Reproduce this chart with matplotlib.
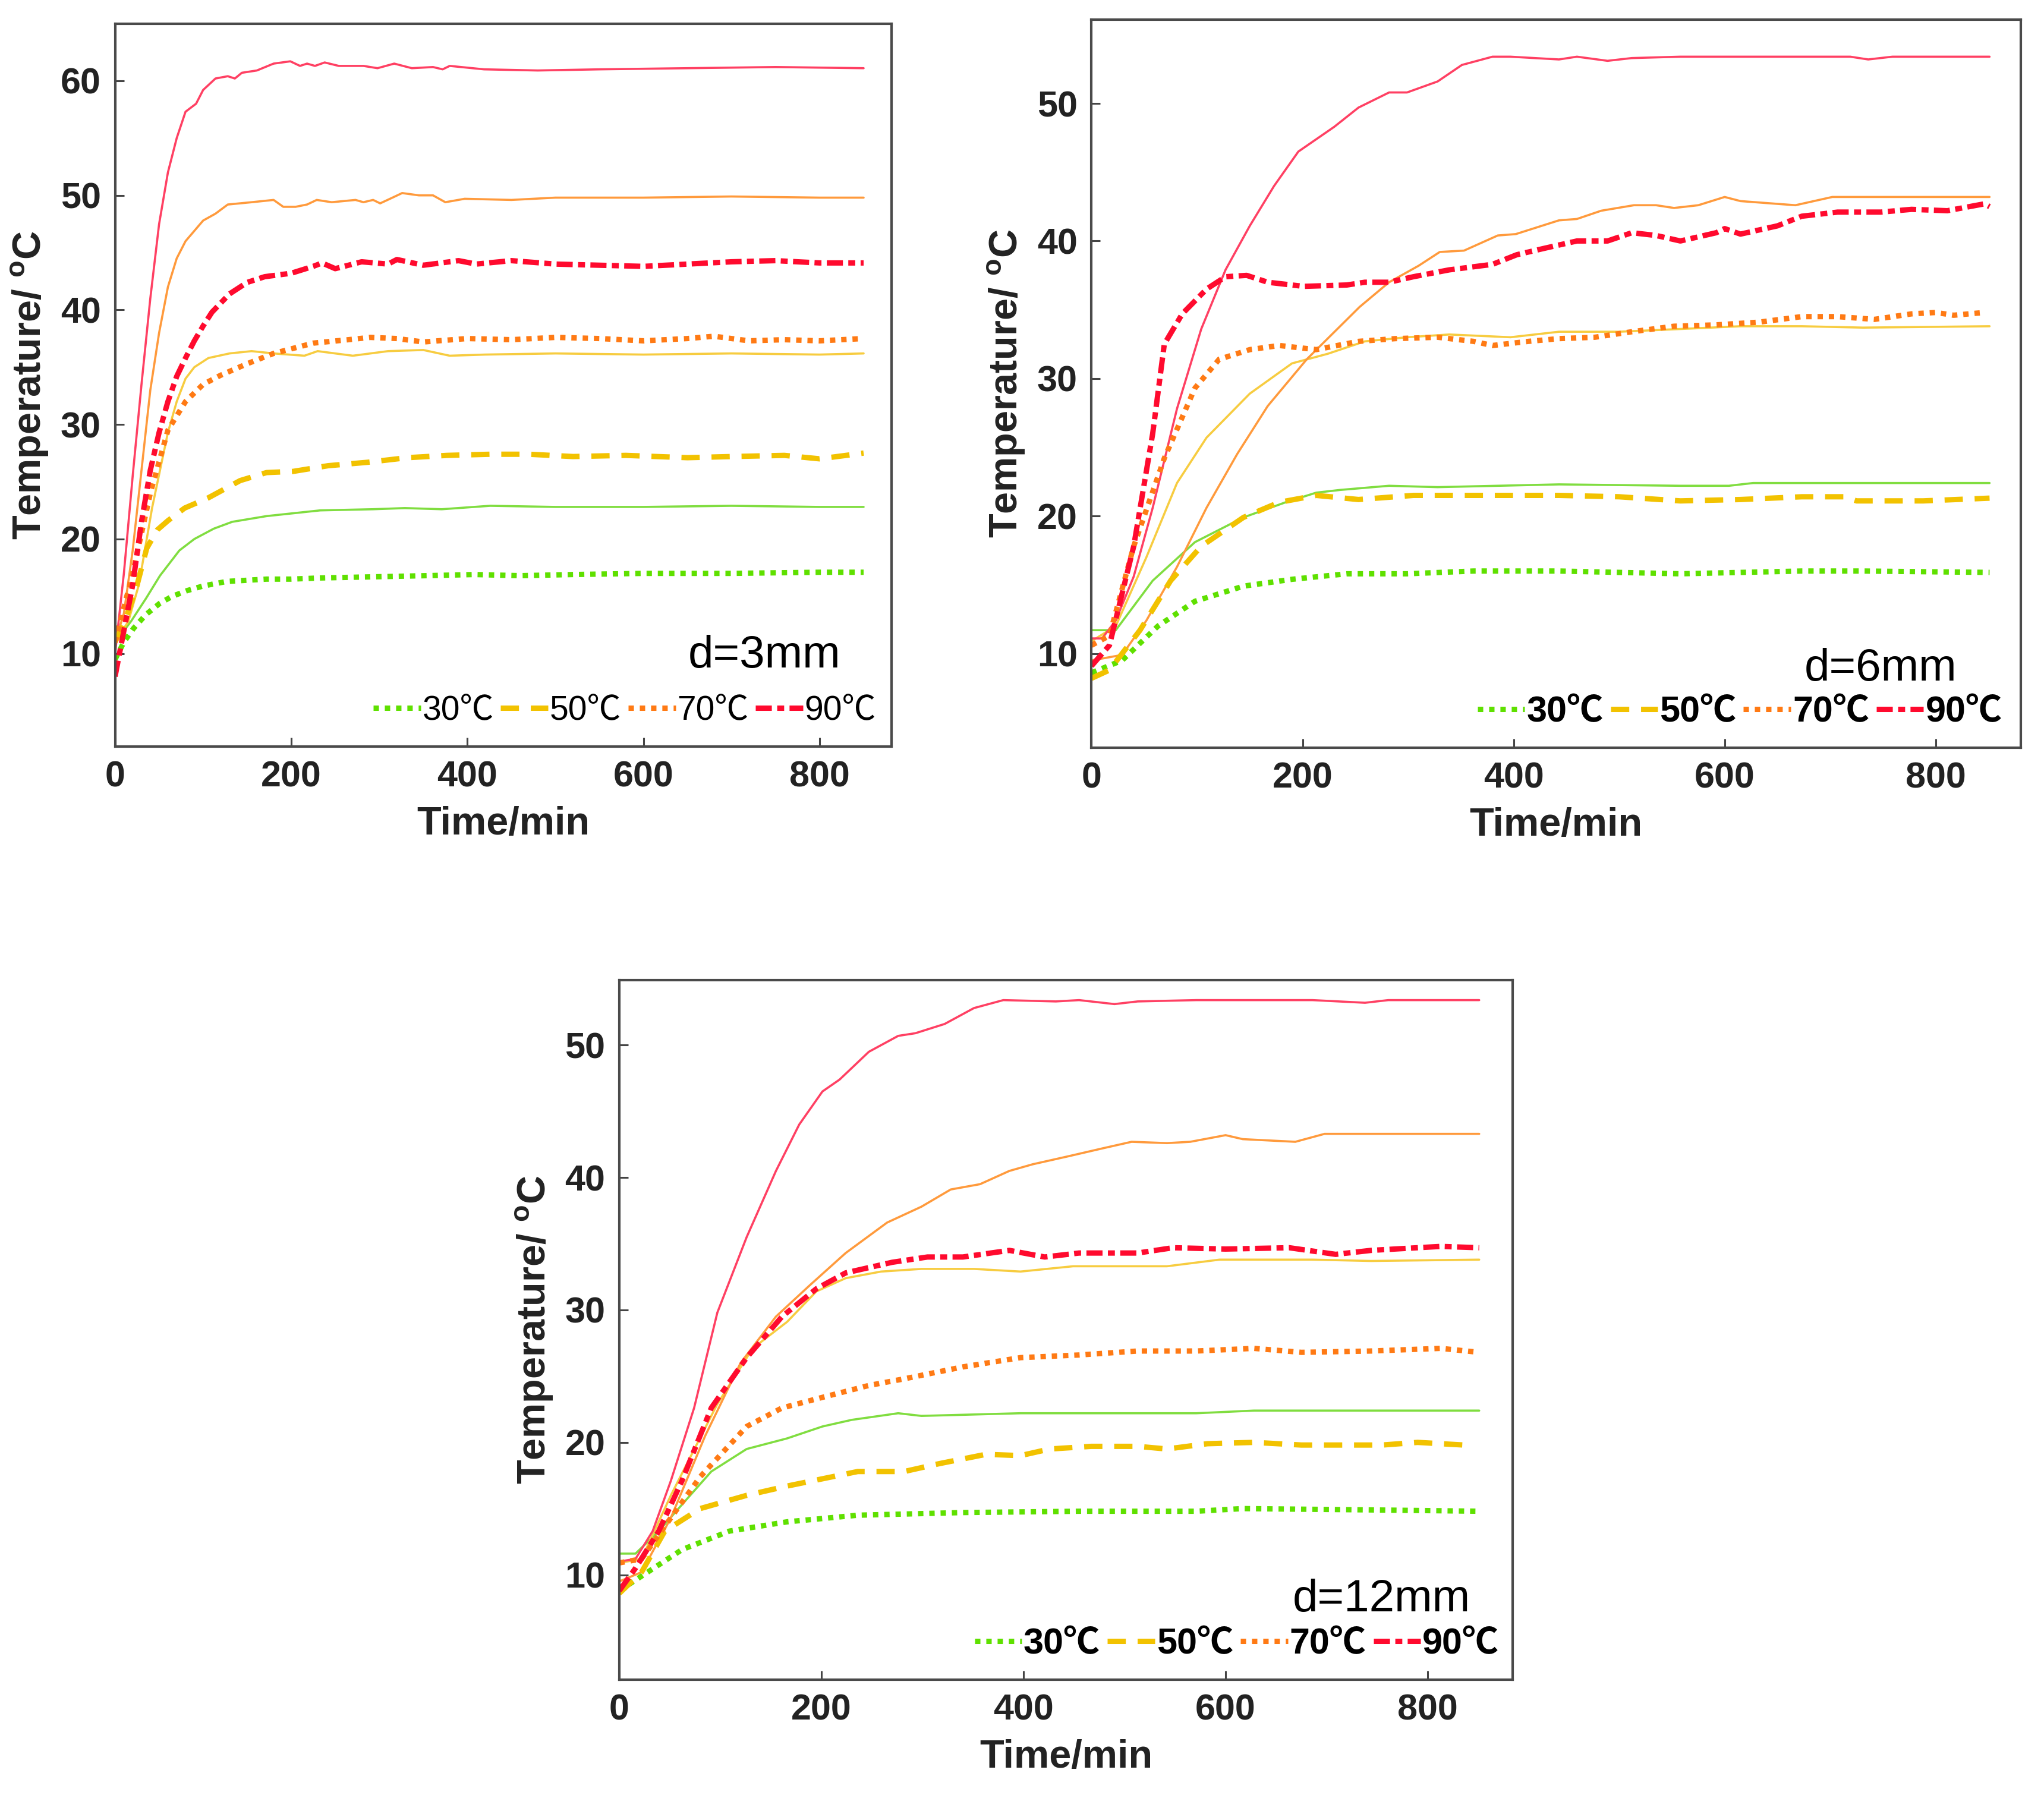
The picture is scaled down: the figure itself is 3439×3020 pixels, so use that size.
import matplotlib
matplotlib.use("Agg")
import matplotlib.pyplot as plt
from matplotlib.font_manager import FontProperties

# ---------------- data ----------------
LEGEND_LABELS = ["30℃", "50℃", "70℃", "90℃"]
X_TICKS = [0, 200, 400, 600, 800]
Y_TICKS_1 = [10, 20, 30, 40, 50, 60]
Y_TICKS_23 = [10, 20, 30, 40, 50]
PANEL_TAGS = ["d=3mm", "d=6mm", "d=12mm"]

# ---- panel 1 : d = 3 mm ----
P1_T_G_DOT = [0, 10, 21, 35, 51, 65, 82, 100, 127, 150, 172, 200, 233, 293, 353, 408, 460, 520, 600, 700, 800, 850]
P1_Y_G_DOT = [9.5, 11.0, 12.2, 13.4, 14.4, 15.0, 15.5, 15.9, 16.3, 16.4, 16.5, 16.5, 16.6, 16.7, 16.8, 16.9, 16.8, 16.9, 17.0, 17.0, 17.1, 17.1]
P1_T_Y_DASH = [0, 12, 24, 36, 48, 60, 79, 106, 142, 172, 202, 242, 287, 332, 377, 426, 470, 520, 580, 650, 700, 760, 800, 830, 850]
P1_Y_Y_DASH = [11.0, 13.0, 15.7, 19.2, 20.8, 21.6, 22.7, 23.6, 25.1, 25.8, 25.9, 26.4, 26.7, 27.1, 27.3, 27.4, 27.4, 27.2, 27.3, 27.1, 27.2, 27.3, 27.0, 27.3, 27.5]
P1_T_O_DOT = [0, 10, 20, 30, 40, 60, 80, 100, 120, 150, 180, 225, 265, 290, 320, 350, 400, 450, 500, 550, 600, 650, 680, 720, 760, 800, 850]
P1_Y_O_DOT = [11.0, 14.0, 17.0, 20.5, 24.0, 29.5, 32.0, 33.5, 34.3, 35.3, 36.2, 37.1, 37.4, 37.6, 37.5, 37.2, 37.5, 37.4, 37.6, 37.5, 37.3, 37.5, 37.7, 37.3, 37.4, 37.3, 37.5]
P1_T_R_DD = [0, 10, 20, 30, 40, 50, 60, 70, 80, 90, 100, 110, 130, 150, 170, 200, 225, 235, 250, 280, 310, 320, 350, 390, 410, 450, 500, 550, 600, 650, 700, 750, 800, 850]
P1_Y_R_DD = [8.0, 12.0, 16.0, 21.5, 26.0, 29.3, 32.0, 34.2, 35.8, 37.3, 38.6, 39.8, 41.4, 42.4, 42.9, 43.2, 43.8, 44.1, 43.6, 44.2, 44.0, 44.4, 43.9, 44.3, 44.0, 44.3, 44.0, 43.9, 43.8, 44.0, 44.2, 44.3, 44.1, 44.1]
P1_T_G_SOL = [0, 18, 35, 51, 73, 90, 112, 133, 172, 233, 293, 329, 371, 426, 500, 600, 700, 800, 850]
P1_Y_G_SOL = [11.0, 12.8, 14.8, 16.8, 19.0, 20.0, 20.9, 21.5, 22.0, 22.5, 22.6, 22.7, 22.6, 22.9, 22.8, 22.8, 22.9, 22.8, 22.8]
P1_T_Y_SOL = [0, 15, 27, 42, 60, 70, 80, 90, 106, 130, 155, 180, 215, 230, 270, 310, 350, 380, 420, 500, 600, 700, 800, 850]
P1_Y_Y_SOL = [11.0, 12.8, 16.0, 22.7, 29.3, 32.0, 34.0, 35.0, 35.8, 36.2, 36.4, 36.2, 36.0, 36.4, 36.0, 36.4, 36.5, 36.0, 36.1, 36.2, 36.1, 36.2, 36.1, 36.2]
P1_T_O_SOL = [0, 10, 20, 30, 40, 50, 60, 70, 80, 100, 114, 128, 155, 180, 191, 205, 218, 229, 246, 273, 282, 293, 301, 315, 326, 345, 361, 375, 397, 450, 500, 600, 700, 800, 850]
P1_Y_O_SOL = [11.0, 13.5, 19.0, 26.0, 33.0, 38.0, 42.0, 44.5, 46.0, 47.8, 48.4, 49.2, 49.4, 49.6, 49.0, 49.0, 49.2, 49.6, 49.4, 49.6, 49.4, 49.6, 49.3, 49.8, 50.2, 50.0, 50.0, 49.4, 49.7, 49.6, 49.8, 49.8, 49.9, 49.8, 49.8]
P1_T_R_SOL = [0, 10, 20, 30, 40, 50, 60, 70, 80, 92, 100, 114, 128, 136, 144, 161, 180, 199, 210, 218, 227, 238, 254, 282, 298, 317, 337, 361, 372, 380, 419, 480, 550, 650, 750, 850]
P1_Y_R_SOL = [10.0, 17.0, 25.5, 33.5, 41.0, 47.5, 52.0, 55.0, 57.3, 58.0, 59.2, 60.2, 60.4, 60.2, 60.7, 60.9, 61.5, 61.7, 61.3, 61.5, 61.3, 61.6, 61.3, 61.3, 61.1, 61.5, 61.1, 61.2, 61.0, 61.3, 61.0, 60.9, 61.0, 61.1, 61.2, 61.1]

# ---- panel 2 : d = 6 mm ----
P2_T_G_DOT = [0, 29, 63, 98, 144, 190, 242, 299, 362, 443, 558, 673, 731, 851]
P2_Y_G_DOT = [8.6, 9.5, 12.0, 13.8, 14.9, 15.4, 15.8, 15.8, 16.0, 16.0, 15.8, 16.0, 16.0, 15.9]
P2_T_Y_DASH = [0, 17, 46, 75, 104, 144, 178, 213, 253, 305, 385, 443, 500, 558, 615, 673, 713, 725, 788, 851]
P2_Y_Y_DASH = [8.2, 8.8, 11.7, 15.3, 17.8, 19.9, 21.0, 21.5, 21.2, 21.5, 21.5, 21.5, 21.4, 21.1, 21.2, 21.4, 21.4, 21.1, 21.1, 21.3]
P2_T_O_DOT = [0, 17, 40, 69, 98, 121, 150, 178, 213, 253, 288, 328, 362, 380, 414, 443, 477, 512, 552, 592, 633, 673, 707, 742, 777, 800, 817, 846]
P2_Y_O_DOT = [10.6, 11.3, 17.8, 24.2, 29.3, 31.4, 32.1, 32.4, 32.1, 32.7, 32.9, 33.0, 32.7, 32.4, 32.7, 32.9, 33.0, 33.4, 33.8, 33.9, 34.1, 34.5, 34.5, 34.3, 34.7, 34.8, 34.6, 34.8]
P2_T_R_DD = [0, 17, 40, 58, 69, 86, 109, 127, 147, 167, 201, 242, 259, 282, 305, 339, 380, 403, 431, 460, 489, 512, 535, 558, 592, 600, 615, 650, 673, 707, 748, 777, 811, 846, 851]
P2_Y_R_DD = [9.1, 10.6, 17.8, 26.0, 32.5, 34.7, 36.5, 37.4, 37.5, 37.0, 36.7, 36.8, 37.0, 37.0, 37.4, 37.9, 38.3, 39.0, 39.5, 40.0, 40.0, 40.6, 40.4, 40.0, 40.6, 40.9, 40.5, 41.1, 41.8, 42.1, 42.1, 42.3, 42.2, 42.7, 42.5]
P2_T_G_SOL = [0, 23, 58, 98, 144, 184, 213, 236, 282, 328, 385, 443, 558, 604, 627, 731, 851]
P2_Y_G_SOL = [11.7, 11.7, 15.3, 18.1, 19.9, 21.0, 21.7, 21.9, 22.2, 22.1, 22.2, 22.3, 22.2, 22.2, 22.4, 22.4, 22.4]
P2_T_Y_SOL = [0, 23, 52, 81, 109, 150, 190, 224, 259, 299, 339, 397, 443, 500, 558, 615, 673, 731, 851]
P2_Y_Y_SOL = [10.9, 12.0, 17.0, 22.4, 25.7, 28.9, 31.1, 31.8, 32.7, 33.0, 33.2, 33.0, 33.4, 33.4, 33.6, 33.8, 33.8, 33.7, 33.8]
P2_T_O_SOL = [0, 29, 52, 81, 109, 138, 167, 204, 254, 282, 310, 330, 353, 385, 402, 443, 460, 483, 514, 535, 552, 575, 600, 615, 667, 702, 851]
P2_Y_O_SOL = [9.5, 9.9, 12.4, 16.3, 20.6, 24.5, 28.0, 31.4, 35.2, 37.0, 38.2, 39.2, 39.3, 40.4, 40.5, 41.5, 41.6, 42.2, 42.6, 42.6, 42.4, 42.6, 43.2, 42.9, 42.6, 43.2, 43.2]
P2_T_R_SOL = [0, 10, 23, 40, 58, 81, 104, 127, 150, 173, 196, 213, 230, 253, 282, 299, 328, 351, 380, 397, 443, 460, 489, 512, 558, 615, 673, 719, 736, 759, 851]
P2_Y_R_SOL = [11.1, 11.1, 12.4, 15.6, 20.6, 27.8, 33.6, 37.9, 41.1, 44.0, 46.5, 47.4, 48.3, 49.7, 50.8, 50.8, 51.6, 52.8, 53.4, 53.4, 53.2, 53.4, 53.1, 53.3, 53.4, 53.4, 53.4, 53.4, 53.2, 53.4, 53.4]

# ---- panel 3 : d = 12 mm ----
P3_T_G_DOT = [0, 28, 62, 109, 166, 236, 340, 455, 571, 617, 744, 851]
P3_Y_G_DOT = [8.8, 10.2, 11.9, 13.3, 14.0, 14.5, 14.7, 14.8, 14.8, 15.0, 14.9, 14.8]
P3_T_Y_DASH = [0, 22, 45, 80, 126, 166, 236, 282, 317, 363, 397, 426, 467, 513, 542, 582, 628, 675, 721, 755, 790, 836]
P3_Y_Y_DASH = [8.6, 10.2, 13.3, 15.0, 16.0, 16.7, 17.8, 17.8, 18.4, 19.1, 19.0, 19.5, 19.7, 19.7, 19.5, 19.9, 20.0, 19.8, 19.8, 19.8, 20.0, 19.8]
P3_T_O_DOT = [0, 22, 51, 80, 126, 161, 201, 247, 282, 340, 397, 455, 513, 571, 628, 675, 744, 813, 851]
P3_Y_O_DOT = [10.9, 11.2, 14.3, 17.4, 21.2, 22.6, 23.4, 24.3, 24.8, 25.7, 26.4, 26.6, 26.9, 26.9, 27.1, 26.8, 26.9, 27.1, 26.8]
P3_T_R_DD = [0, 16, 39, 62, 91, 126, 161, 195, 224, 270, 305, 340, 386, 421, 455, 513, 548, 600, 663, 709, 744, 813, 851]
P3_Y_R_DD = [8.8, 10.5, 13.3, 17.1, 22.6, 26.4, 29.5, 31.6, 32.8, 33.6, 34.0, 34.0, 34.5, 34.0, 34.3, 34.3, 34.7, 34.6, 34.7, 34.2, 34.5, 34.8, 34.7]
P3_T_G_SOL = [0, 16, 39, 62, 91, 126, 166, 201, 230, 276, 299, 397, 571, 628, 851]
P3_Y_G_SOL = [11.6, 11.6, 13.3, 15.3, 17.8, 19.5, 20.3, 21.2, 21.7, 22.2, 22.0, 22.2, 22.2, 22.4, 22.4]
P3_T_Y_SOL = [0, 22, 51, 97, 132, 166, 195, 224, 259, 299, 351, 397, 449, 542, 594, 686, 744, 851]
P3_Y_Y_SOL = [10.9, 11.2, 16.0, 22.9, 27.1, 29.1, 31.4, 32.4, 32.9, 33.1, 33.1, 32.9, 33.3, 33.3, 33.8, 33.8, 33.7, 33.8]
P3_T_O_SOL = [0, 22, 51, 85, 120, 155, 189, 224, 265, 299, 328, 357, 386, 409, 444, 478, 507, 542, 565, 600, 617, 669, 698, 851]
P3_Y_O_SOL = [9.5, 10.2, 14.3, 20.5, 26.0, 29.5, 31.9, 34.3, 36.6, 37.8, 39.1, 39.5, 40.5, 41.0, 41.6, 42.2, 42.7, 42.6, 42.7, 43.2, 42.9, 42.7, 43.3, 43.3]
P3_T_R_SOL = [0, 16, 33, 51, 74, 97, 126, 155, 178, 201, 218, 247, 276, 293, 322, 351, 380, 432, 455, 490, 513, 571, 686, 738, 761, 851]
P3_Y_R_SOL = [11.0, 11.2, 13.3, 17.1, 22.6, 29.8, 35.5, 40.5, 44.0, 46.5, 47.4, 49.5, 50.7, 50.9, 51.6, 52.8, 53.4, 53.3, 53.4, 53.1, 53.3, 53.4, 53.4, 53.2, 53.4, 53.4]

# ---------------- style ----------------
C_GREEN_DOT, C_GREEN_SOL = "#5fe000", "#80dd40"
C_YEL_DASH, C_YEL_SOL = "#f2c200", "#f7cc40"
C_OR_DOT, C_OR_SOL = "#ff7a14", "#ff9a3c"
C_RED_DD, C_RED_SOL = "#ff0a2e", "#ff4063"

LW_SOL = 2.6
LW_THICK = 6.5
LS_DOT = (0, (1.0, 1.1))
LS_DASH = (0, (3.4, 2.2))
LS_DD = (0, (3.0, 1.0, 1.3, 1.0))

plt.rcParams["font.family"] = ["Liberation Sans", "DejaVu Sans"]
plt.rcParams["mathtext.fontset"] = "custom"
plt.rcParams["mathtext.rm"] = "Liberation Sans"
plt.rcParams["mathtext.bf"] = "Liberation Sans:bold"

fig = plt.figure(figsize=(34.39, 30.20), dpi=100)

panels = [
    dict(rect=[0.0563, 0.5842, 0.3800, 0.4027], xlim=(0, 882), ylim=(1.9, 65.0), yticks=Y_TICKS_1,
         tag=PANEL_TAGS[0], tagpos=(0.934, 0.125), legx=0.98, legy=0.049, legsize=41, legweight="normal",
         handlelen=1.4, colsp=0.2,
         data=[(P1_T_G_SOL, P1_Y_G_SOL), (P1_T_Y_SOL, P1_Y_Y_SOL), (P1_T_O_SOL, P1_Y_O_SOL), (P1_T_R_SOL, P1_Y_R_SOL),
               (P1_T_G_DOT, P1_Y_G_DOT), (P1_T_Y_DASH, P1_Y_Y_DASH), (P1_T_O_DOT, P1_Y_O_DOT), (P1_T_R_DD, P1_Y_R_DD)]),
    dict(rect=[0.5340, 0.5835, 0.4546, 0.4056], xlim=(0, 880.5), ylim=(3.16, 56.1), yticks=Y_TICKS_23,
         tag=PANEL_TAGS[1], tagpos=(0.931, 0.108), legx=0.98, legy=0.048, legsize=44, legweight="bold",
         handlelen=1.3, colsp=0.2,
         data=[(P2_T_G_SOL, P2_Y_G_SOL), (P2_T_Y_SOL, P2_Y_Y_SOL), (P2_T_O_SOL, P2_Y_O_SOL), (P2_T_R_SOL, P2_Y_R_SOL),
               (P2_T_G_DOT, P2_Y_G_DOT), (P2_T_Y_DASH, P2_Y_Y_DASH), (P2_T_O_DOT, P2_Y_O_DOT), (P2_T_R_DD, P2_Y_R_DD)]),
    dict(rect=[0.3030, 0.0644, 0.4370, 0.3895], xlim=(0, 884), ylim=(2.1, 54.9), yticks=Y_TICKS_23,
         tag=PANEL_TAGS[2], tagpos=(0.953, 0.114), legx=0.985, legy=0.050, legsize=44, legweight="bold",
         handlelen=1.3, colsp=0.2,
         data=[(P3_T_G_SOL, P3_Y_G_SOL), (P3_T_Y_SOL, P3_Y_Y_SOL), (P3_T_O_SOL, P3_Y_O_SOL), (P3_T_R_SOL, P3_Y_R_SOL),
               (P3_T_G_DOT, P3_Y_G_DOT), (P3_T_Y_DASH, P3_Y_Y_DASH), (P3_T_O_DOT, P3_Y_O_DOT), (P3_T_R_DD, P3_Y_R_DD)]),
]

sol_colors = [C_GREEN_SOL, C_YEL_SOL, C_OR_SOL, C_RED_SOL]
leg_colors = [C_GREEN_DOT, C_YEL_DASH, C_OR_DOT, C_RED_DD]
leg_styles = [LS_DOT, LS_DASH, LS_DOT, LS_DD]

for p in panels:
    ax = fig.add_axes(p["rect"])
    d = p["data"]
    for i in range(4):
        ax.plot(d[i][0], d[i][1], color=sol_colors[i], lw=LW_SOL, solid_capstyle="round")
    handles = []
    for i in range(4):
        h, = ax.plot(d[4 + i][0], d[4 + i][1], color=leg_colors[i], lw=LW_THICK,
                     linestyle=leg_styles[i], dash_capstyle="butt", label=LEGEND_LABELS[i])
        handles.append(h)
    ax.set_xlim(*p["xlim"])
    ax.set_ylim(*p["ylim"])
    ax.set_xticks(X_TICKS)
    ax.set_yticks(p["yticks"])
    ax.tick_params(direction="in", length=11, width=2.2, color="#444444",
                   labelsize=44, pad=17, top=False, right=False)
    for lab in ax.get_xticklabels() + ax.get_yticklabels():
        lab.set_fontweight("bold")
        lab.set_color("#222222")
    for s in ax.spines.values():
        s.set_linewidth(3.0)
        s.set_color("#4a4a4a")
    ax.set_xlabel("Time/min", fontsize=48, fontweight="bold", labelpad=14, color="#222222")
    ax.set_ylabel(r"Temperature/ $^{\mathbf{o}}$C", fontsize=48, fontweight="bold", labelpad=12, color="#222222")
    ax.text(p["tagpos"][0], p["tagpos"][1], p["tag"], transform=ax.transAxes,
            ha="right", va="center", fontsize=55, color="black")
    fp = FontProperties(family=["Liberation Sans", "Noto Sans CJK SC"], weight=p["legweight"], size=p["legsize"])
    ax.legend(handles=handles, loc="center right", bbox_to_anchor=(p["legx"], p["legy"]),
              ncol=4, frameon=False, prop=fp, handlelength=p["handlelen"], handletextpad=0.05,
              columnspacing=p["colsp"], borderpad=0, borderaxespad=0)

fig.savefig("out.png", dpi=100, facecolor="white")
